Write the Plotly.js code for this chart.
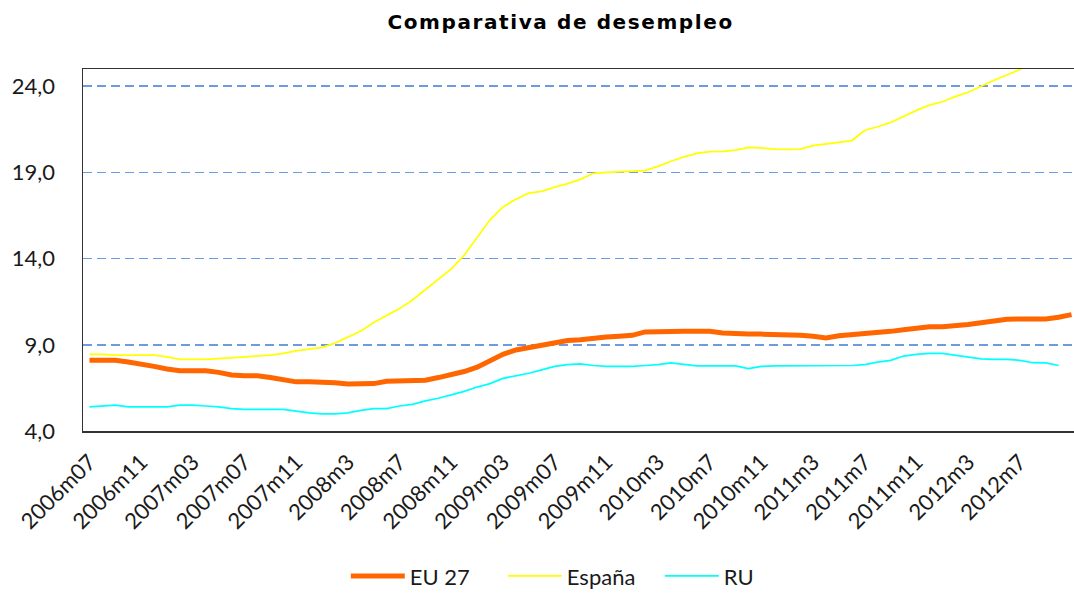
<!DOCTYPE html>
<html>
<head>
<meta charset="utf-8">
<script src="https://cdn.plot.ly/plotly-3.0.1.min.js"></script>
<style>
  html, body { margin: 0; padding: 0; background: #fff; }
  #chart { width: 1074px; height: 594px; }
  .gtitle { letter-spacing: 1.6px; }
</style>
</head>
<body>
<div id="chart"></div>
<script>
// Monthly categories (2006m07 .. 2012m11)
const months = [
  "2006m07","2006m08","2006m09","2006m10","2006m11","2006m12",
  "2007m01","2007m02","2007m03","2007m04","2007m05","2007m06","2007m07","2007m08","2007m09","2007m10","2007m11","2007m12",
  "2008m01","2008m02","2008m03","2008m04","2008m05","2008m06","2008m07","2008m08","2008m09","2008m10","2008m11","2008m12",
  "2009m01","2009m02","2009m03","2009m04","2009m05","2009m06","2009m07","2009m08","2009m09","2009m10","2009m11","2009m12",
  "2010m01","2010m02","2010m03","2010m04","2010m05","2010m06","2010m07","2010m08","2010m09","2010m10","2010m11","2010m12",
  "2011m01","2011m02","2011m03","2011m04","2011m05","2011m06","2011m07","2011m08","2011m09","2011m10","2011m11","2011m12",
  "2012m01","2012m02","2012m03","2012m04","2012m05","2012m06","2012m07","2012m08","2012m09","2012m10","2012m11"
];

// Unemployment rate (%)
const eu27 = [
  8.1, 8.1, 8.1, 8.0, 7.9, 7.75,
  7.6, 7.5, 7.5, 7.5, 7.4, 7.25, 7.2, 7.2, 7.1, 6.95, 6.85, 6.85,
  6.85, 6.8, 6.72, 6.72, 6.75, 6.88, 6.9, 6.9, 6.95, 7.1, 7.25, 7.45,
  7.7, 8.1, 8.45, 8.7, 8.85, 8.95, 9.1, 9.25, 9.3, 9.4, 9.45, 9.5,
  9.55, 9.75, 9.78, 9.78, 9.78, 9.78, 9.78, 9.68, 9.62, 9.62, 9.62, 9.62,
  9.62, 9.55, 9.5, 9.4, 9.52, 9.58, 9.6, 9.68, 9.78, 9.87, 9.95, 10.05,
  10.05, 10.1, 10.18, 10.28, 10.38, 10.48, 10.5, 10.5, 10.5, 10.6, 10.75
];

const espana = [
  8.45, 8.45, 8.4, 8.4, 8.4, 8.4,
  8.3, 8.15, 8.15, 8.15, 8.2, 8.25, 8.3, 8.35, 8.4, 8.5, 8.65, 8.75,
  8.85, 9.1, 9.45, 9.8, 10.3, 10.7, 11.1, 11.6, 12.2, 12.85, 13.4, 14.2,
  15.25, 16.25, 17.0, 17.45, 17.8, 17.9, 18.15, 18.35, 18.6, 18.95, 19.0, 19.02,
  19.05, 19.1, 19.35, 19.65, 19.9, 20.1, 20.2, 20.22, 20.3, 20.45, 20.42, 20.35,
  20.34, 20.35, 20.55, 20.65, 20.72, 20.85, 21.45, 21.65, 21.9, 22.25, 22.6, 22.9,
  23.1, 23.4, 23.65, 24.0, 24.35, 24.65, 25.0, 25.3, 25.5, 25.7, 25.9
];

const ru = [
  5.4, 5.45, 5.5, 5.4, 5.4, 5.4,
  5.4, 5.5, 5.5, 5.45, 5.4, 5.3, 5.25, 5.25, 5.25, 5.25, 5.15, 5.05,
  5.0, 5.0, 5.05, 5.2, 5.3, 5.3, 5.45, 5.55, 5.75, 5.9, 6.1, 6.3,
  6.55, 6.75, 7.05, 7.2, 7.35, 7.55, 7.75, 7.85, 7.9, 7.8, 7.75, 7.75,
  7.75, 7.8, 7.85, 7.95, 7.85, 7.78, 7.78, 7.78, 7.78, 7.62, 7.75, 7.78,
  7.78, 7.8, 7.8, 7.8, 7.8, 7.8, 7.85, 8.0, 8.1, 8.35, 8.45, 8.5,
  8.5, 8.4, 8.3, 8.18, 8.15, 8.15, 8.1, 7.96, 7.95, 7.8, null
];

// Axis tick labels as printed on the chart
const xTickCats = ["2006m07","2006m11","2007m03","2007m07","2007m11","2008m03","2008m07","2008m11","2009m03","2009m07","2009m11","2010m03","2010m07","2010m11","2011m03","2011m07","2011m11","2012m03","2012m07"];
const xTickLabels = ["2006m07","2006m11","2007m03","2007m07","2007m11","2008m3","2008m7","2008m11","2009m03","2009m07","2009m11","2010m3","2010m7","2010m11","2011m3","2011m7","2011m11","2012m3","2012m7"];
const yTicks = [4, 9, 14, 19, 24];

const seriesNames = ["EU 27", "España", "RU"];

const traces = [
  {x: months, y: eu27, name: seriesNames[0], type: 'scatter', mode: 'lines',
   line: {color: '#ff6600', width: 5}},
  {x: months, y: espana, name: seriesNames[1], type: 'scatter', mode: 'lines',
   line: {color: '#ffff00', width: 1.75}},
  {x: months, y: ru, name: seriesNames[2], type: 'scatter', mode: 'lines',
   line: {color: '#00ffff', width: 1.75}, connectgaps: false}
];

const layout = {
  width: 1074, height: 594,
  margin: {l: 83, r: 0, t: 69, b: 163, pad: 0},
  paper_bgcolor: '#ffffff', plot_bgcolor: '#ffffff',
  separators: ',.',
  showlegend: true,
  hovermode: false,
  title: {
    text: 'Comparativa de desempleo',
    font: {family: 'DejaVu Sans', size: 20, color: '#000000', weight: 'bold'},
    x: 0.522, xanchor: 'center', xref: 'container',
    y: 0.963, yanchor: 'middle', yref: 'container'
  },
  xaxis: {
    type: 'category',
    categoryorder: 'array', categoryarray: months,
    range: [-0.5, 76.19],
    showgrid: false, zeroline: false,
    showline: true, linecolor: '#333333', linewidth: 1.5, mirror: true,
    ticks: '',
    tickmode: 'array', tickvals: xTickCats, ticktext: xTickLabels,
    tickangle: -45,
    ticklabelstandoff: 8,
    tickfont: {family: 'Lato', size: 22, color: '#1a1a1a'}
  },
  yaxis: {
    range: [4, 25],
    tickmode: 'array', tickvals: yTicks, tickformat: '.1f',
    showgrid: true, gridcolor: '#6d9be0', gridwidth: 1.5, griddash: '9px,5px',
    zeroline: false,
    showline: true, linecolor: '#333333', linewidth: 1.5, mirror: false,
    ticks: '',
    ticklabelstandoff: 22,
    tickfont: {family: 'Lato', size: 22, color: '#1a1a1a'}
  },
  legend: {
    orientation: 'h',
    xref: 'container', yref: 'container',
    x: 0.322, xanchor: 'left',
    y: 0.03, yanchor: 'middle',
    font: {family: 'Lato', size: 22, color: '#1a1a1a'},
    itemwidth: 54,
    entrywidth: 88, entrywidthmode: 'pixels',
    bgcolor: 'rgba(0,0,0,0)',
    traceorder: 'normal'
  }
};

Plotly.newPlot('chart', traces, layout, {staticPlot: true, displayModeBar: false});
</script>
</body>
</html>
